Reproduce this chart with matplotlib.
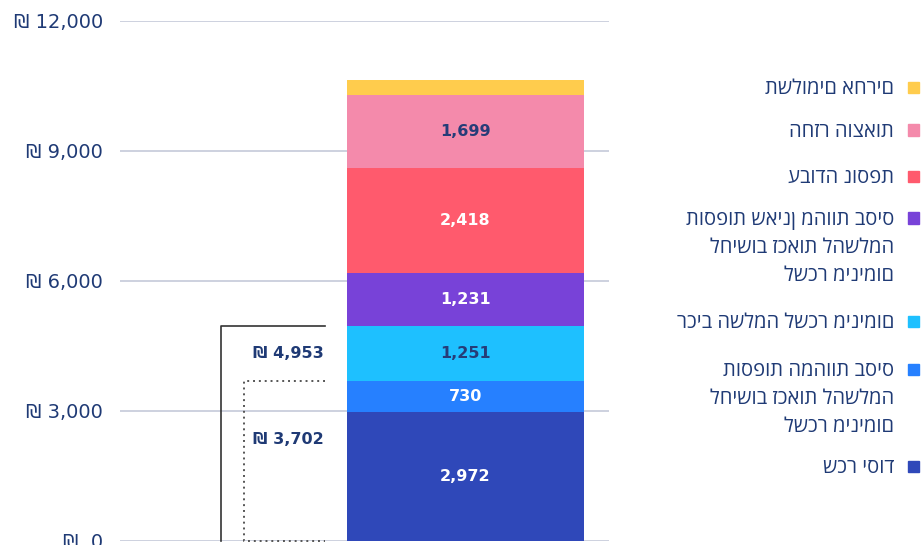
import matplotlib
matplotlib.use("Agg")
import matplotlib.pyplot as plt

# stacked salary components, bottom to top
labels = [
    "שכר יסוד",
    "תוספות המהוות בסיס\nלחישוב זכאות להשלמה\nלשכר מינימום",
    "רכיב השלמה לשכר מינימום",
    "תוספות שאינן מהוות בסיס\nלחישוב זכאות להשלמה\nלשכר מינימום",
    "עבודה נוספת",
    "החזר הוצאות",
    "תשלומים אחרים",
]
values = [2972, 730, 1251, 1231, 2418, 1699, 340]
colors = ["#2f48b9", "#2680ff", "#1ec0ff", "#7842d8", "#ff5a6d", "#f48aab", "#ffcc4d"]
value_colors = ["white", "white", "#263c78", "white", "white", "#263c78", None]
shown = [True, True, True, True, True, True, False]

yticks = [0, 3000, 6000, 9000, 12000]

NAVY = "#1f3a75"
plt.rcParams["font.family"] = ["DejaVu Sans"]

fig = plt.figure(figsize=(9.21, 5.45), dpi=100)
ax = fig.add_axes([120 / 921, 4 / 545, 489 / 921, 520 / 545])
ax.set_xlim(120, 609)
ax.set_ylim(0, 12000)

for y in yticks:
    ax.axhline(y, color="#c5cad9", lw=1.2, zorder=0)

bar_x = 465.5
bottom = 0
for v, c, tc, s in zip(values, colors, value_colors, shown):
    ax.bar(bar_x, v, width=237, bottom=bottom, color=c, zorder=2)
    if s:
        ax.text(bar_x, bottom + v / 2, f"{v:,}", ha="center", va="center",
                color=tc, fontsize=11.5, fontweight="bold", zorder=3)
    bottom += v

# brackets for the two minimum-wage subtotals
total_a = sum(values[:3])
total_b = sum(values[:2])
ax.plot([325, 221, 221], [total_a, total_a, 0], color="#333333", lw=1.2,
        clip_on=False, zorder=1)
ax.plot([325, 244, 244, 325], [total_b, total_b, 0, 0], color="#555555", lw=1.4,
        ls=(0, (1, 2)), clip_on=False, zorder=1)
ax.text(324, (total_a + total_b) / 2, f"₪ {total_a:,}", ha="right", va="center",
        color=NAVY, fontsize=11.5, fontweight="bold")
ax.text(324, total_b * 0.63, f"₪ {total_b:,}", ha="right", va="center",
        color=NAVY, fontsize=11.5, fontweight="bold")

ax.set_yticks(yticks)
ax.set_yticklabels([f"₪ {y:,}" if y else "₪  0" for y in yticks])
ax.tick_params(axis="y", length=0, pad=12, labelsize=14, labelcolor=NAVY)
ax.set_xticks([])
for sp in ax.spines.values():
    sp.set_visible(False)

# legend, top entry first
leg_y = [87, 130, 176, 218, 321, 369, 466]
entries = list(zip(labels, colors))[::-1]
for (lab, c), py in zip(entries, leg_y):
    fy = 1 - py / 545
    fig.patches.append(plt.Rectangle((908 / 921, fy - 5.5 / 545), 11 / 921, 11 / 545,
                                     transform=fig.transFigure, color=c))
    fig.text(894 / 921, fy + 8 / 545, lab, ha="right", va="top",
             color=NAVY, fontsize=14.5, linespacing=1.52,
             family=["Open Sans", "Liberation Sans", "DejaVu Sans"])

fig.savefig("out.png", dpi=100)
